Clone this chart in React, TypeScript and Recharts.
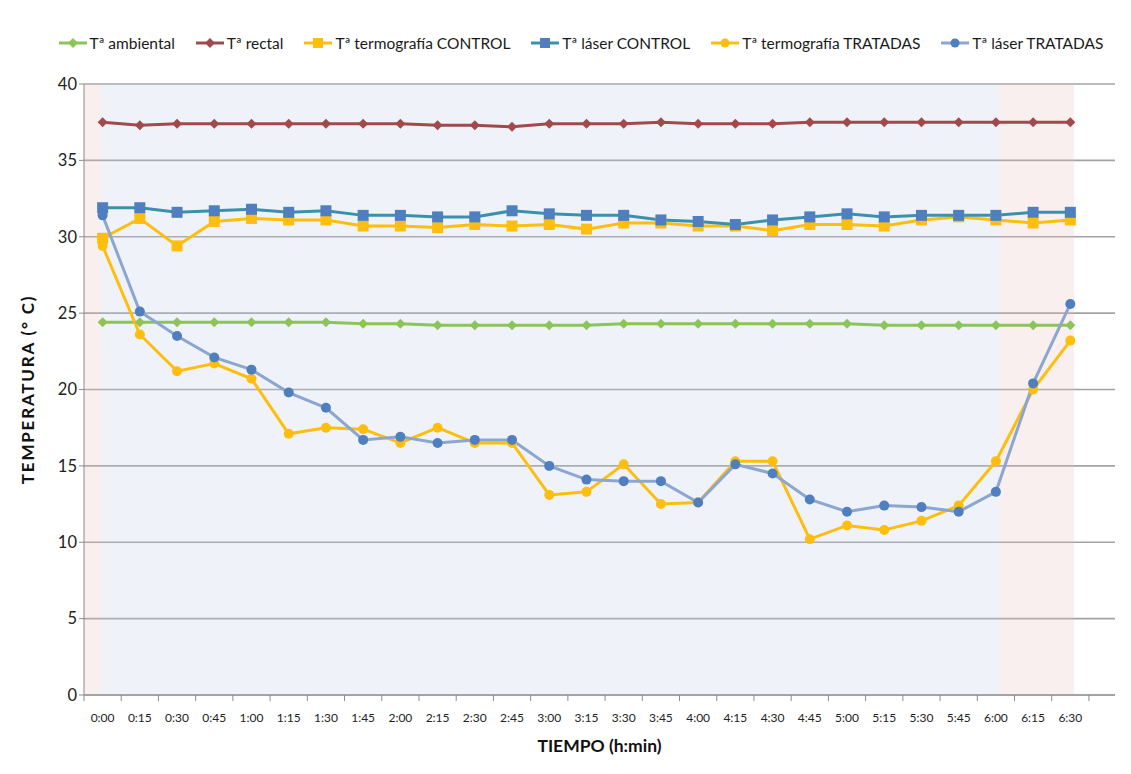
import React from 'react';
import { LineChart, Line, XAxis, YAxis, CartesianGrid, ReferenceArea, Legend, Label } from 'recharts';

const timeLabels = ['0:00','0:15','0:30','0:45','1:00','1:15','1:30','1:45','2:00','2:15','2:30','2:45','3:00','3:15','3:30','3:45','4:00','4:15','4:30','4:45','5:00','5:15','5:30','5:45','6:00','6:15','6:30'];

const ambiental = [24.4,24.4,24.4,24.4,24.4,24.4,24.4,24.3,24.3,24.2,24.2,24.2,24.2,24.2,24.3,24.3,24.3,24.3,24.3,24.3,24.3,24.2,24.2,24.2,24.2,24.2,24.2];
const rectal = [37.5,37.3,37.4,37.4,37.4,37.4,37.4,37.4,37.4,37.3,37.3,37.2,37.4,37.4,37.4,37.5,37.4,37.4,37.4,37.5,37.5,37.5,37.5,37.5,37.5,37.5,37.5];
const termoControl = [29.9,31.2,29.4,31.0,31.2,31.1,31.1,30.7,30.7,30.6,30.8,30.7,30.8,30.5,30.9,30.9,30.7,30.7,30.4,30.8,30.8,30.7,31.1,31.3,31.1,30.9,31.1];
const laserControl = [31.9,31.9,31.6,31.7,31.8,31.6,31.7,31.4,31.4,31.3,31.3,31.7,31.5,31.4,31.4,31.1,31.0,30.8,31.1,31.3,31.5,31.3,31.4,31.4,31.4,31.6,31.6];
const termoTratadas = [29.4,23.6,21.2,21.7,20.7,17.1,17.5,17.4,16.5,17.5,16.5,16.5,13.1,13.3,15.1,12.5,12.6,15.3,15.3,10.2,11.1,10.8,11.4,12.4,15.3,20.0,23.2];
const laserTratadas = [31.4,25.1,23.5,22.1,21.3,19.8,18.8,16.7,16.9,16.5,16.7,16.7,15.0,14.1,14.0,14.0,12.6,15.1,14.5,12.8,12.0,12.4,12.3,12.0,13.3,20.4,25.6];

const yTicks = [0, 5, 10, 15, 20, 25, 30, 35, 40];

const data = timeLabels.map((t, i) => ({
  i,
  t,
  amb: ambiental[i],
  rec: rectal[i],
  tc: termoControl[i],
  lc: laserControl[i],
  tt: termoTratadas[i],
  lt: laserTratadas[i],
}));

const xTickPositions: number[] = [];
for (let k = -1; k <= 2 * timeLabels.length + 1; k++) xTickPositions.push(k / 2);

const C_GREEN = '#8DC457';
const C_RED = '#A04A4C';
const C_YELLOW = '#FDBE10';
const C_TEAL = '#3A91AE';
const C_BLUE = '#4F7FBE';
const C_LIGHTBLUE = '#8CA6D2';

type MarkerKind = 'diamond' | 'square' | 'circle';

function marker(kind: MarkerKind, cx: number, cy: number, color: string, size: number, key?: any) {
  if (kind === 'diamond') {
    return <path key={key} d={`M${cx},${cy - size} L${cx + size},${cy} L${cx},${cy + size} L${cx - size},${cy} Z`} fill={color} />;
  }
  if (kind === 'square') {
    return <rect key={key} x={cx - size} y={cy - size} width={size * 2} height={size * 2} fill={color} />;
  }
  return <circle key={key} cx={cx} cy={cy} r={size} fill={color} />;
}

const makeDot = (kind: MarkerKind, color: string, size: number) => (props: any) => {
  const { cx, cy, key, index } = props;
  if (cx == null || cy == null) return <g key={key ?? index} />;
  return marker(kind, cx, cy, color, size, key ?? index);
};

const legendItems = [
  { name: 'Tª ambiental', line: C_GREEN, kind: 'diamond' as MarkerKind, mc: C_GREEN, ms: 5 },
  { name: 'Tª rectal', line: C_RED, kind: 'diamond' as MarkerKind, mc: C_RED, ms: 5 },
  { name: 'Tª termografía CONTROL', line: C_YELLOW, kind: 'square' as MarkerKind, mc: C_YELLOW, ms: 5 },
  { name: 'Tª láser CONTROL', line: C_TEAL, kind: 'square' as MarkerKind, mc: C_BLUE, ms: 5 },
  { name: 'Tª termografía TRATADAS', line: C_YELLOW, kind: 'circle' as MarkerKind, mc: C_YELLOW, ms: 4.5 },
  { name: 'Tª láser TRATADAS', line: C_LIGHTBLUE, kind: 'circle' as MarkerKind, mc: C_BLUE, ms: 4.5 },
];

const renderLegend = () => (
  <div style={{ display: 'flex', justifyContent: 'center', gap: 20, paddingLeft: 24, fontFamily: 'Lato, sans-serif', fontSize: 15.5, color: '#1a1a1a' }}>
    {legendItems.map((it) => (
      <div key={it.name} style={{ display: 'flex', alignItems: 'center' }}>
        <svg width={30} height={14} style={{ marginRight: 2 }}>
          <line x1={1} y1={7} x2={29} y2={7} stroke={it.line} strokeWidth={3} />
          {marker(it.kind, 15, 7, it.mc, it.ms)}
        </svg>
        <span>{it.name}</span>
      </div>
    ))}
  </div>
);

const XTick = (props: any) => {
  const { x, y, payload } = props;
  const v = payload.value;
  if (Number.isInteger(v)) {
    const lbl = timeLabels[v];
    if (!lbl) return <g />;
    return (
      <text x={x} y={y + 27} textAnchor="middle" fontSize={12} fill="#222" fontFamily="Lato, sans-serif">{lbl}</text>
    );
  }
  return <line x1={x} x2={x} y1={y} y2={y + 6} stroke="#8C8C8C" strokeWidth={1} />;
};

export default function App() {
  return (
    <div style={{ width: 1123, height: 766, fontFamily: 'Lato, sans-serif', background: '#fff' }}>
      <LineChart width={1123} height={766} data={data} margin={{ top: 58, right: 16, bottom: 22, left: 14 }}>
        <CartesianGrid vertical={false} stroke="#A3A3A3" strokeWidth={1.6} />
        <ReferenceArea x1={-0.5} x2={-0.05} fill="#E7BFBB" fillOpacity={0.25} ifOverflow="hidden" />
        <ReferenceArea x1={-0.05} x2={24.1} fill="#BFCFE7" fillOpacity={0.25} ifOverflow="hidden" />
        <ReferenceArea x1={24.1} x2={26.1} fill="#E7BFBB" fillOpacity={0.25} ifOverflow="hidden" />
        <Legend verticalAlign="top" content={renderLegend} wrapperStyle={{ top: 26 }} />
        <XAxis
          type="number"
          dataKey="i"
          domain={[-0.5, 27.2]}
          ticks={xTickPositions}
          interval={0}
          tick={<XTick />}
          tickLine={false}
          tickSize={0}
          tickMargin={0}
          allowDataOverflow
          stroke="#8C8C8C"
          height={57}
        >
          <Label value="TIEMPO (h:min)" position="insideBottom" offset={0} style={{ fontWeight: 700, fontSize: 17.5, fill: '#111' }} />
        </XAxis>
        <YAxis
          domain={[0, 40]}
          ticks={yTicks}
          interval={0}
          tickSize={5}
          tickLine={{ stroke: '#8C8C8C' }}
          stroke="#8C8C8C"
          width={62}
          tick={{ fontSize: 16.5, fill: '#222' }}
        >
          <Label value="TEMPERATURA (° C)" angle={-90} position="insideLeft" offset={6} style={{ fontWeight: 700, fontSize: 17, fill: '#111', textAnchor: 'middle', letterSpacing: 1.8 }} />
        </YAxis>
        <Line dataKey="amb" stroke={C_GREEN} strokeWidth={3} dot={makeDot('diamond', C_GREEN, 5)} isAnimationActive={false} />
        <Line dataKey="rec" stroke={C_RED} strokeWidth={3} dot={makeDot('diamond', C_RED, 5)} isAnimationActive={false} />
        <Line dataKey="tc" stroke={C_YELLOW} strokeWidth={3} dot={makeDot('square', C_YELLOW, 5.5)} isAnimationActive={false} />
        <Line dataKey="lc" stroke={C_TEAL} strokeWidth={3} dot={makeDot('square', C_BLUE, 5.5)} isAnimationActive={false} />
        <Line dataKey="tt" stroke={C_YELLOW} strokeWidth={3} dot={makeDot('circle', C_YELLOW, 5)} isAnimationActive={false} />
        <Line dataKey="lt" stroke={C_LIGHTBLUE} strokeWidth={3} dot={makeDot('circle', C_BLUE, 5)} isAnimationActive={false} />
      </LineChart>
    </div>
  );
}
